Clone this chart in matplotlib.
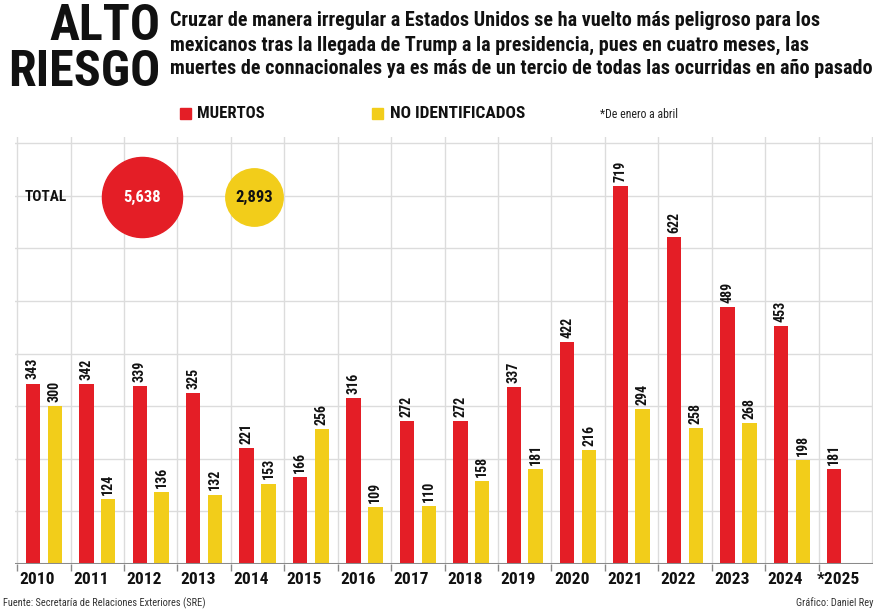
import matplotlib
matplotlib.use("Agg")
import matplotlib.pyplot as plt
from matplotlib import font_manager as fm
from matplotlib.font_manager import FontProperties

# ---- data ----
years = ["2010", "2011", "2012", "2013", "2014", "2015", "2016", "2017",
         "2018", "2019", "2020", "2021", "2022", "2023", "2024", "*2025"]
muertos = [343, 342, 339, 325, 221, 166, 316, 272, 272, 337, 422, 719, 622, 489, 453, 181]
no_identificados = [300, 124, 136, 132, 153, 256, 109, 110, 158, 181, 216, 294, 258, 268, 198]
total_labels = ["5,638", "2,893"]
total_values = [5638, 2893]

title_lines = ["ALTO", "RIESGO"]
subtitle = ["Cruzar de manera irregular a Estados Unidos se ha vuelto más peligroso para los",
            "mexicanos tras la llegada de Trump a la presidencia, pues en cuatro meses, las",
            "muertes de connacionales ya es más de un tercio de todas las ocurridas en año pasado"]

RED = "#e41e26"
YEL = "#f2cd1a"
GRID = "#dcdcdc"

def pick(names):
    for n in names:
        try:
            fm.findfont(FontProperties(family=n), fallback_to_default=False)
            return n
        except Exception:
            pass
    return "DejaVu Sans"

NARROW = pick(["Liberation Sans Narrow", "Roboto Condensed", "Open Sans Condensed", "Liberation Sans"])
FAM = [NARROW, "DejaVu Sans"]
plt.rcParams['font.family'] = FAM

W, H = 876, 611
fig = plt.figure(figsize=(W / 100, H / 100), dpi=100)

def fx(px):
    return px / W

def fy(py):
    return 1 - py / H

base_px, top_px = 564, 137
left_px, right_px = 15, 873
ax = fig.add_axes([fx(left_px), fy(base_px), fx(right_px - left_px), (base_px - top_px) / H])
ymax = 812
ax.set_ylim(0, ymax)
ax.set_xlim(-0.54, 15.52)

n = len(years)
xs = list(range(n))
off = 0.205
bw = 0.27
rx = [x - off for x in xs]
yx = [x + off for x in xs[:len(no_identificados)]]

# grid
for v in range(100, 900, 100):
    if v <= ymax:
        ax.axhline(v, color=GRID, lw=1.0, zorder=0)
for b in range(-1, n):
    ax.axvline(b + 0.5, color=GRID, lw=1.0, zorder=0)

br = ax.bar(rx, muertos, width=bw, color=RED, zorder=2)
by = ax.bar(yx, no_identificados, width=bw, color=YEL, zorder=2)

for rect, v in zip(br, muertos):
    ax.annotate(str(v), (rect.get_x() + rect.get_width() / 2, v), xytext=(0, 3),
                textcoords="offset points", rotation=90, ha="center", va="bottom",
                fontsize=10, fontweight="bold", color="#111111")
for rect, v in zip(by, no_identificados):
    ax.annotate(str(v), (rect.get_x() + rect.get_width() / 2, v), xytext=(0, 3),
                textcoords="offset points", rotation=90, ha="center", va="bottom",
                fontsize=10, fontweight="bold", color="#111111")

ax.axhline(0, color="#8a8a8a", lw=2.2, zorder=3)
for s in ax.spines.values():
    s.set_visible(False)
ax.set_yticks([])
ax.set_xticks([x - 0.12 for x in xs])
ax.set_xticklabels(years, fontsize=12.5, fontweight="bold", color="#111111")
ax.tick_params(axis="x", which="major", length=0, pad=6)
ax.set_xticks([b + 0.5 for b in range(-1, n - 1)], minor=True)
ax.tick_params(axis="x", which="minor", length=5, width=1, color="#8a8a8a", direction="out")

# TOTAL row with bubbles
fig.text(fx(25), fy(197), "TOTAL", fontsize=11, fontweight="bold", color="#111111", va="center", ha="left")
k = 0.59
cx_px = [142, 254]
colors = [RED, YEL]
tcol = ["white", "#111111"]
for cx, val, c, lab, tc in zip(cx_px, total_values, colors, total_labels, tcol):
    fig.add_artist(plt.Line2D([fx(cx)], [fy(197)], marker="o", markersize=(k * val) ** 0.5,
                              markerfacecolor=c, markeredgecolor=c, linestyle="none",
                              transform=fig.transFigure, zorder=5))
    fig.text(fx(cx), fy(197), lab, fontsize=12, fontweight="bold", color=tc,
             ha="center", va="center", zorder=6)

# Title
fig.text(fx(160), fy(27), title_lines[0], fontsize=36, fontweight="bold", ha="right", va="center", color="#111111")
fig.text(fx(160), fy(73), title_lines[1], fontsize=36, fontweight="bold", ha="right", va="center", color="#111111")
for i, line in enumerate(subtitle):
    fig.text(fx(170), fy(21 + 24 * i), line, fontsize=14.5, fontweight="bold", ha="left", va="center", color="#111111")

# legend
fig.patches.append(plt.Rectangle((fx(180), fy(119)), fx(11), 11 / H, transform=fig.transFigure,
                                 color=RED, figure=fig))
fig.text(fx(197), fy(113), "MUERTOS", fontsize=12, fontweight="bold", va="center", color="#111111")
fig.patches.append(plt.Rectangle((fx(372), fy(119)), fx(11), 11 / H, transform=fig.transFigure,
                                 color=YEL, figure=fig))
fig.text(fx(390), fy(113), "NO IDENTIFICADOS", fontsize=12.5, fontweight="bold", va="center", color="#111111")
fig.text(fx(600), fy(115), "*De enero a abril", fontsize=8.5, va="center", color="#222222")

# footer
fig.text(fx(3), fy(603), "Fuente: Secretaría de Relaciones Exteriores (SRE)", fontsize=7.5, va="center", color="#333333")
fig.text(fx(873), fy(603), "Gráfico: Daniel Rey", fontsize=7.5, va="center", ha="right", color="#333333")

fig.savefig("out.png", dpi=100, facecolor="white")
